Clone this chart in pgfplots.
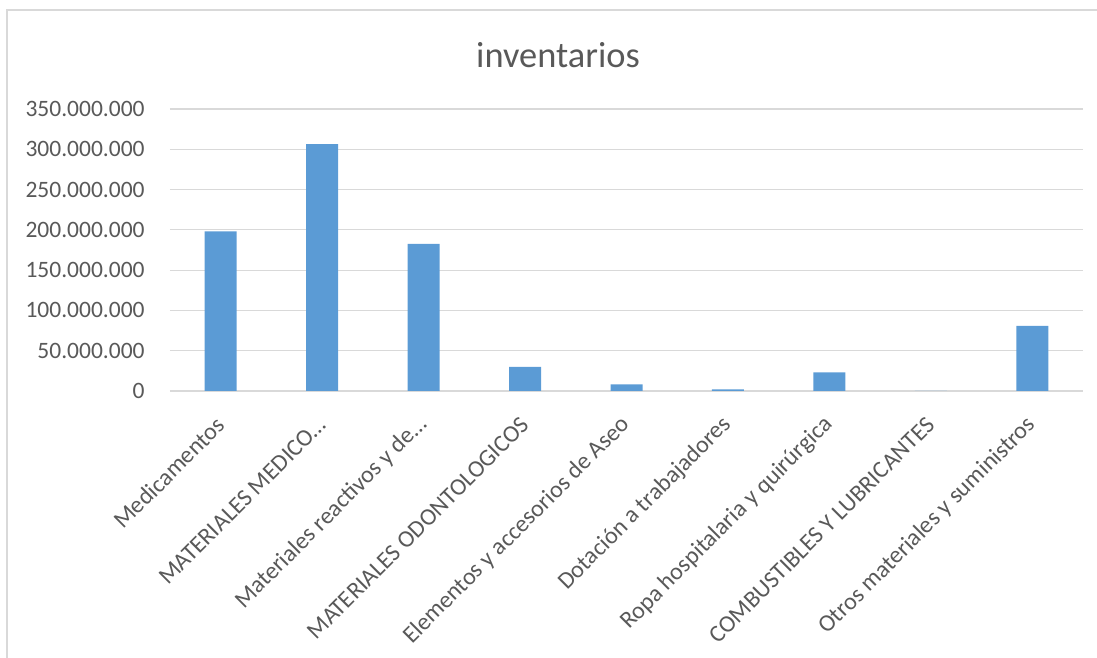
\documentclass[border=0pt]{standalone}
\usepackage{pgfplots}
\pgfplotsset{compat=1.18}
\usepackage{fontspec}
\setmainfont{Carlito}

\definecolor{barblue}{HTML}{5B9BD5}
\definecolor{gridgray}{HTML}{D9D9D9}
\definecolor{textgray}{HTML}{595959}

\begin{document}
\begin{tikzpicture}
    \useasboundingbox (0,0) rectangle (548.5pt,329pt);
    % chart frame
    \draw[gridgray, line width=0.6pt] (3.5pt,0) -- (3.5pt,324pt) -- (548.5pt,324pt);

    \node[anchor=base, font=\fontsize{18.2pt}{21pt}\selectfont, text=textgray, inner sep=0pt]
        at (279pt,295pt) {inventarios};

    \begin{axis}[
        at={(85pt,133.5pt)}, anchor=south west,
        scale only axis,
        width=456.5pt, height=141pt,
        ybar, bar width=16pt,
        xmin=-0.5, xmax=8.5,
        ymin=0, ymax=350000000,
        ytick distance=50000000,
        scaled y ticks=false,
        xtick=data,
        xticklabels={Medicamentos, MATERIALES MEDICO…, Materiales reactivos y de…,
            MATERIALES ODONTOLOGICOS, Elementos y accesorios de Aseo,
            Dotación a trabajadores, Ropa hospitalaria y quirúrgica,
            COMBUSTIBLES Y LUBRICANTES, Otros materiales y suministros},
        axis line style={draw=none},
        major tick length=0pt,
        ymajorgrids,
        major grid style={gridgray, line width=0.6pt},
        tick label style={font=\fontsize{11.75pt}{14pt}\selectfont, text=textgray},
        /pgf/number format/.cd, fixed, precision=0, 1000 sep={.}, assume math mode=true,
        /pgfplots/.cd,
        yticklabel style={anchor=east, inner sep=0pt, xshift=-12.5pt},
        xticklabel style={yshift=-15pt, rotate=45, anchor=east, inner sep=0pt,
            font=\fontsize{12pt}{14pt}\selectfont},
        ]
        \addplot[fill=barblue, draw=none] coordinates {
            (0,198000000) (1,306500000) (2,182500000) (3,29800000) (4,8300000)
            (5,2000000) (6,23200000) (7,0) (8,80700000)
        };
    \end{axis}
\end{tikzpicture}
\end{document}
